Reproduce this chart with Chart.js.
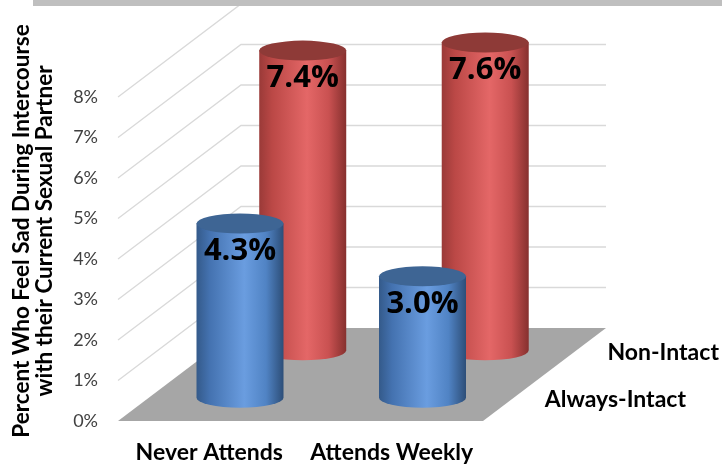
<!DOCTYPE html>
<html>
<head>
<meta charset="utf-8">
<script src="https://cdn.jsdelivr.net/npm/chart.js@4.4.1/dist/chart.umd.min.js"></script>
<style>
  html, body { margin: 0; padding: 0; background: #fff; }
  #wrap { width: 722px; height: 468px; position: relative; }
</style>
</head>
<body>
<div id="wrap"><canvas id="chart"></canvas></div>
<script>
// data
const categories = ['Never Attends', 'Attends Weekly'];
const seriesNames = ['Always-Intact', 'Non-Intact'];
const alwaysIntact = [4.3, 3.0];
const nonIntact = [7.4, 7.6];
const yMin = 0;
const yMax = 8;
const yTitle = ['Percent Who Feel Sad During Intercourse', 'with their Current Sexual Partner'];

// 3d look
const DEPTH = { dx: 123, dy: -93 };
const ROW_DEPTH = [0.25, 0.76];         // front row, back row
const CYL = { r: 43.5, ry: 10 };
const SHADES = [
  { stops: ['#345a8a', '#4472b0', '#6a9de0', '#5083c4', '#2d4e78'], top: '#3e6594' },
  { stops: ['#9a3a38', '#bb4846', '#e46767', '#c95151', '#86302e'], top: '#8e3a37' },
];
const FONT = 'Lato, "Open Sans", sans-serif';

function drawCylinder(ctx, cx, base, top, shade) {
  const { r, ry } = CYL;
  const g = ctx.createLinearGradient(cx - r, 0, cx + r, 0);
  [0, 0.15, 0.55, 0.8, 1].forEach((p, i) => g.addColorStop(p, shade.stops[i]));
  ctx.fillStyle = g;
  ctx.beginPath();
  ctx.moveTo(cx - r, top);
  ctx.lineTo(cx - r, base);
  ctx.ellipse(cx, base, r, ry, 0, Math.PI, 0, true);
  ctx.lineTo(cx + r, top);
  ctx.closePath();
  ctx.fill();
  ctx.fillStyle = shade.top;
  ctx.beginPath();
  ctx.ellipse(cx, top, r, ry, 0, 0, Math.PI * 2);
  ctx.fill();
}

const box3d = {
  id: 'box3d',
  beforeDatasetsDraw(chart) {
    const { ctx, chartArea: a, scales: { y } } = chart;
    ctx.save();
    // side wall and back wall gridlines
    ctx.strokeStyle = '#d9d9d9';
    ctx.lineWidth = 1.3;
    for (let v = yMin + 1; v <= yMax; v++) {
      const py = y.getPixelForValue(v);
      ctx.beginPath();
      ctx.moveTo(a.left, py);
      ctx.lineTo(a.left + DEPTH.dx, py + DEPTH.dy);
      ctx.lineTo(a.right + DEPTH.dx, py + DEPTH.dy);
      ctx.stroke();
    }
    // floor
    const fy = y.getPixelForValue(yMin);
    ctx.fillStyle = '#a6a6a6';
    ctx.beginPath();
    ctx.moveTo(a.left, fy);
    ctx.lineTo(a.right, fy);
    ctx.lineTo(a.right + DEPTH.dx, fy + DEPTH.dy);
    ctx.lineTo(a.left + DEPTH.dx, fy + DEPTH.dy);
    ctx.closePath();
    ctx.fill();

    // cylinders, back row first
    const labels = [];
    for (let d = chart.data.datasets.length - 1; d >= 0; d--) {
      const ds = chart.data.datasets[d];
      const f = ROW_DEPTH[d];
      ds.data.forEach((val, i) => {
        const cx = chart.scales.x.getPixelForValue(i) + f * DEPTH.dx;
        const base = fy + f * DEPTH.dy;
        const top = base - (fy - y.getPixelForValue(val));
        drawCylinder(ctx, cx, base, top, SHADES[d]);
        labels.push({ x: cx, y: top + 28, text: val.toFixed(1) + '%' });
      });
      // depth axis label
      ctx.fillStyle = '#000';
      ctx.font = 'bold 23px ' + FONT;
      ctx.textAlign = 'left';
      ctx.textBaseline = 'middle';
      ctx.fillText(ds.label, a.right + f * DEPTH.dx + 31, fy + f * DEPTH.dy + 2);
    }
    ctx.fillStyle = '#000';
    ctx.font = 'bold 31px "Open Sans", sans-serif';
    ctx.textAlign = 'center';
    ctx.textBaseline = 'middle';
    labels.forEach((l) => ctx.fillText(l.text, l.x, l.y));
    ctx.restore();
    return false;
  },
  afterDraw(chart) {
    const { ctx } = chart;
    ctx.save();
    // cut-off title band
    ctx.fillStyle = '#bfbfbf';
    ctx.fillRect(33, 0, 722 - 33, 6);
    // y axis title, two lines
    ctx.translate(0, 231);
    ctx.rotate(-Math.PI / 2);
    ctx.fillStyle = '#000';
    ctx.font = 'bold 22.5px ' + FONT;
    ctx.textAlign = 'center';
    ctx.textBaseline = 'middle';
    ctx.fillText(yTitle[0], 0, 22);
    ctx.fillText(yTitle[1], 0, 45);
    ctx.restore();
  },
};

new Chart(document.getElementById('chart'), {
  type: 'bar',
  data: {
    labels: categories,
    datasets: [
      { label: seriesNames[0], data: alwaysIntact },
      { label: seriesNames[1], data: nonIntact },
    ],
  },
  options: {
    responsive: true, maintainAspectRatio: false, animation: false,
    layout: { padding: { left: 0, right: 239, top: 97, bottom: 0 } },
    plugins: { legend: { display: false }, tooltip: { enabled: false } },
    scales: {
      x: {
        grid: { display: false, drawTicks: false }, border: { display: false },
        ticks: { color: '#000', padding: 18, font: { family: FONT, size: 23, weight: 'bold' } },
        afterFit: (s) => { s.height = 47; },
      },
      y: {
        min: yMin, max: yMax,
        grid: { display: false, drawTicks: false }, border: { display: false },
        ticks: { stepSize: 1, color: '#404040', padding: 20, callback: (v) => v + '%', font: { family: FONT, size: 18 } },
        afterFit: (s) => { s.width = 118; },
      },
    },
  },
  plugins: [box3d],
});
</script>
</body>
</html>
